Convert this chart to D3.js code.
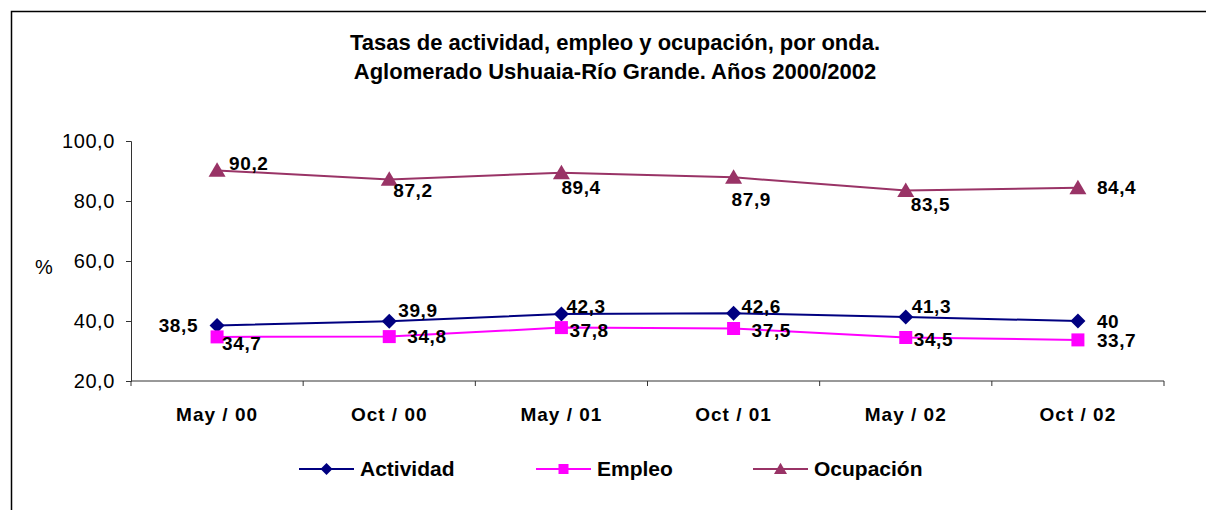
<!DOCTYPE html>
<html>
<head>
<meta charset="utf-8">
<script src="https://cdn.jsdelivr.net/npm/d3@7"></script>
<style>
  body { margin: 0; background: #fff; }
  svg { display: block; font-family: "Liberation Sans", Arial, sans-serif; }
</style>
</head>
<body>
<svg id="chart" width="1206" height="510"></svg>
<script>
// data
const ondas = ["May / 00", "Oct / 00", "May / 01", "Oct / 01", "May / 02", "Oct /  02"];
const actividad = [38.5, 39.9, 42.3, 42.6, 41.3, 40];
const empleo = [34.7, 34.8, 37.8, 37.5, 34.5, 33.7];
const ocupacion = [90.2, 87.2, 89.4, 87.9, 83.5, 84.4];
const yTicks = [20, 40, 60, 80, 100];

// label nudges (dx, dy from the point), these mimic the hand-moved excel labels
const offActividad = [[-19, 0, "end"], [9, -11], [5, -8], [8, -7], [6, -11], [19, 0]];
const offEmpleo = [[5, 6], [18, 0], [8, 3], [18, 2], [8, 2], [19, 0]];
const offOcupacion = [[12, -7], [4, 11], [0, 15], [-2, 22], [5, 14], [19, 0]];

const series = [
    {name: "Actividad", values: actividad, color: "#000080", marker: "diamond", off: offActividad},
    {name: "Empleo", values: empleo, color: "#FF00FF", marker: "square", off: offEmpleo},
    {name: "Ocupación", values: ocupacion, color: "#993366", marker: "triangle", off: offOcupacion}
];

const svg = d3.select("#chart");
const FONT = "'Liberation Sans', Arial, sans-serif";

// outer frame (top + left only visible)
svg.append("path")
    .attr("d", "M11.5,510 L11.5,11.5 L1206,11.5")
    .attr("fill", "none")
    .attr("stroke", "#000")
    .attr("stroke-width", 1.5);

// title
const title = svg.append("text")
    .attr("text-anchor", "middle")
    .attr("font-weight", "bold")
    .attr("font-size", 22)
    .attr("fill", "#000");
title.append("tspan").attr("x", 615).attr("y", 50).text("Tasas de actividad, empleo y ocupación, por onda.");
title.append("tspan").attr("x", 615).attr("y", 79).text("Aglomerado Ushuaia-Río Grande. Años 2000/2002");

const x = d3.scaleBand().domain(ondas).range([131, 1164]).paddingInner(0).paddingOuter(0);
const y = d3.scaleLinear().domain([20, 100]).range([381, 141]);

const fmt = v => d3.format(".1f")(v).replace(".", ",");

// y axis
const yAxis = svg.append("g")
    .attr("transform", "translate(131,0)")
    .call(d3.axisLeft(y).tickValues(yTicks).tickFormat(fmt).tickSize(5).tickPadding(11));
yAxis.select(".domain").attr("stroke", "#333");
yAxis.selectAll(".tick line").attr("stroke", "#333");
yAxis.selectAll(".tick text")
    .attr("font-family", FONT)
    .attr("font-size", 20)
    .attr("letter-spacing", 0.6)
    .attr("fill", "#000");

// x axis: ticks at the category boundaries
const xAxis = svg.append("g").attr("transform", "translate(0,381)");
xAxis.append("line")
    .attr("x1", 131).attr("x2", 1164)
    .attr("stroke", "#333");
const bounds = ondas.map(d => x(d)).concat([x(ondas[ondas.length - 1]) + x.bandwidth()]);
xAxis.selectAll("line.tk")
    .data(bounds)
    .join("line")
    .attr("class", "tk")
    .attr("x1", d => d).attr("x2", d => d)
    .attr("y1", 0).attr("y2", 5)
    .attr("stroke", "#333");
xAxis.selectAll("text")
    .data(ondas)
    .join("text")
    .attr("x", d => x(d) + x.bandwidth() / 2)
    .attr("y", 40)
    .attr("text-anchor", "middle")
    .attr("font-weight", "bold")
    .attr("font-size", 19)
    .attr("letter-spacing", 1)
    .attr("fill", "#000")
    .text(d => d);

// y axis title
svg.append("text")
    .attr("x", 44).attr("y", 274)
    .attr("text-anchor", "middle")
    .attr("font-size", 20)
    .attr("fill", "#000")
    .text("%");

const cx = i => x(ondas[i]) + x.bandwidth() / 2;

// marker shapes, r = half width
function marker(g, type, r, color) {
    let d;
    if (type === "diamond") d = `M0,${-r}L${r},0L0,${r}L${-r},0Z`;
    else if (type === "square") d = `M${-r},${-r}H${r}V${r}H${-r}Z`;
    else d = `M0,${-r * 0.95}L${r},${r * 0.75}L${-r},${r * 0.75}Z`;
    g.append("path").attr("d", d).attr("fill", color);
}

const line = d3.line().x((d, i) => cx(i)).y(d => y(d));

series.forEach(s => {
    svg.append("path")
        .datum(s.values)
        .attr("d", line)
        .attr("fill", "none")
        .attr("stroke", s.color)
        .attr("stroke-width", 2);
});

const markerSize = {diamond: 7.5, square: 6.5, triangle: 8.5};
series.forEach(s => {
    s.values.forEach((v, i) => {
        const g = svg.append("g").attr("transform", `translate(${cx(i)},${y(v)})`);
        marker(g, s.marker, markerSize[s.marker], s.color);
    });
});

// data labels
series.forEach(s => {
    svg.append("g").selectAll("text")
        .data(s.values)
        .join("text")
        .attr("x", (d, i) => cx(i) + s.off[i][0])
        .attr("y", (d, i) => y(d) + s.off[i][1])
        .attr("dy", "0.35em")
        .attr("text-anchor", (d, i) => s.off[i][2] || "start")
        .attr("font-weight", "bold")
        .attr("font-size", 19)
        .attr("letter-spacing", 0.6)
        .attr("fill", "#000")
        .text(d => String(d).replace(".", ","));
});

// legend
const legendX = [299, 536, 753];
const legendMarker = {diamond: 6, square: 5, triangle: 6.5};
const legend = svg.append("g");
series.forEach((s, k) => {
    const g = legend.append("g").attr("transform", `translate(${legendX[k]},469)`);
    g.append("line").attr("x1", 0).attr("x2", 55).attr("stroke", s.color).attr("stroke-width", 2);
    const m = g.append("g").attr("transform", "translate(27.5,0)");
    marker(m, s.marker, legendMarker[s.marker], s.color);
    g.append("text")
        .attr("x", 61).attr("y", 7)
        .attr("font-weight", "bold")
        .attr("font-size", 21)
        .attr("fill", "#000")
        .text(s.name);
});
</script>
</body>
</html>
